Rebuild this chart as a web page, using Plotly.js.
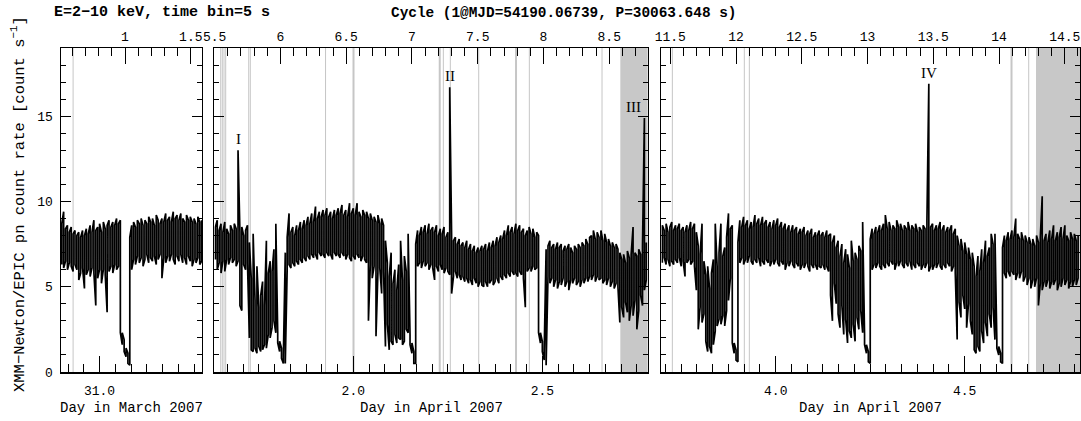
<!DOCTYPE html>
<html><head><meta charset="utf-8">
<script src="https://cdn.plot.ly/plotly-3.0.1.min.js"></script>
<style>html,body{margin:0;padding:0;background:#fff}#chart{width:1081px;height:421px}</style>
</head><body><div id="chart"></div>
<script>
// ---- ephemeris of the top (cycle) axis ----
const EPOCH_DAY = 31.06739;             // MJD 54190.06739 = day 31.06739 of March 2007
const PERIOD_DAYS = 30063.648 / 86400;  // P = 30063.648 s
const BIN_DAYS = 0.005;                 // sampling of the envelope arrays

// ---- panel 1: Day in March 2007 ----
const start1 = 30.900;
const lo1 = [6.3,6.1,6.5,6.0,6.4,6.2,5.9,6.3,6.0,5.4, 5.8,6.1,4.9,5.7,6.0,5.6,6.1,5.8,3.9,5.5,
  6.0,5.2,6.0,5.7,3.5,5.9,6.2,5.8,6.3,6.0, 6.2, 2.3,1.6,1.2,0.9,0.5,0.4,
  6.0,6.6,6.3,6.8,6.4,6.7,6.2,6.6,6.9,6.4, 6.7,6.5,6.8,6.3,6.6,6.9,5.5,6.7,6.4,6.8,
  6.5,6.9,6.6,6.3,6.8,6.5,6.9,6.4,6.7,6.3, 6.8,6.5,6.2,6.6,6.4,6.7,6.3,6.5];
const hi1 = [8.7,9.4,8.4,8.6,8.2,8.5,8.1,8.3,8.0,8.2, 7.9,8.3,8.0,8.4,8.1,8.6,8.2,8.9,8.3,8.5,
  8.7,8.2,8.8,8.4,8.6,8.9,8.5,8.8,8.6,9.0, 8.7, 8.9,2.3,1.9,1.4,1.1,7.9,
  8.6,8.8,8.5,8.9,8.7,9.0,8.6,8.9,8.7,9.1, 8.8,9.0,8.6,9.2,8.9,8.7,9.0,8.8,9.3,8.9,
  9.1,8.8,9.4,9.0,9.2,8.9,9.3,9.0,8.8,9.2, 8.9,9.1,8.8,9.0,8.7,9.1,8.8,8.9];

// ---- panel 2: Day in April 2007 ----
const start2 = 1.635;
const lo2 = [6.6,6.0,6.4,5.8,6.5,5.9,6.6,6.3,6.7,6.4, 6.6,6.2,6.5,3.9,3.6,6.3,6.0,6.4,2.0,1.3,
  1.2,1.4,1.1,1.5,1.2,1.3,1.6,1.4,2.2,2.0, 2.6,3.0,2.3,1.7,1.2,0.8,0.5,0.5,6.0,6.3,
  6.1,6.4,6.2,6.5,6.3,6.6,6.4,6.7,6.5,6.8, 6.6,6.9,6.7,6.9,6.6,7.0,6.8,6.9,6.7,7.0,
  6.8,6.9,6.6,7.0,6.8,6.9,6.7,7.0,6.8,6.6, 6.9,6.7,6.5,6.8,6.6,6.9,6.7,6.5,6.8,6.6,
  6.4,3.0,6.3,5.5,6.2,2.1,5.8,6.1,4.6,5.9, 1.5,2.8,1.3,1.8,1.6,2.2,1.7,2.0,1.9,1.6,
  1.8,2.5,2.3,1.6,1.1,0.5,0.5,6.2,6.4,6.1, 6.5,6.2,6.4,6.0,6.3,6.1,5.4,6.2,5.9,6.3,
  6.0,5.8,6.1,5.9,5.7,4.6,5.6,5.9,5.5,5.7, 5.4,5.6,5.3,5.5,5.2,5.4,5.1,5.5,5.2,5.0,
  5.3,5.1,5.0,5.3,5.0,5.2,5.4,5.1,5.3,5.5, 5.2,5.6,5.4,5.7,5.5,5.8,5.6,5.9,5.7,5.8,
  5.6,5.9,5.7,5.5,3.8,5.9,6.1,5.9,6.2,6.0, 6.1,2.3,1.7,1.2,0.7,0.4,5.6,5.2,5.5,5.0,
  5.4,4.9,5.3,5.1,5.5,5.0,5.3,4.8,5.4,5.2, 5.5,5.1,5.3,5.0,5.4,5.2,5.5,5.3,5.6,5.4,
  5.7,5.3,5.6,5.4,5.5,5.2,5.4,5.1,5.5,5.0, 5.3,4.9,5.2,5.0,2.9,3.8,3.2,4.1,3.5,3.0,
  3.9,3.3,4.2,2.5,3.6,4.5,3.9,4.8,5.4];
const hi2 = [8.5,8.9,8.3,8.7,8.2,8.8,8.4,8.1,8.6,8.3, 8.7,8.4,13.0,8.2,8.5,8.0,8.3,8.6,7.6,5.5,
  8.1,4.2,6.2,3.8,4.5,5.3,3.9,7.7,5.8,6.5, 5.9,7.2,8.7,2.3,1.8,1.4,1.0,7.0,7.9,9.3,
  8.2,8.5,8.0,8.6,8.3,8.8,8.4,8.9,8.6,9.1, 8.7,9.3,8.8,9.7,9.0,9.4,9.1,9.5,9.2,9.6,
  9.1,9.4,9.0,9.5,9.2,9.6,9.3,9.8,9.2,9.5, 9.1,9.9,9.3,9.6,9.2,9.9,9.4,9.1,9.5,9.2,
  9.4,9.0,9.3,8.9,9.1,8.8,9.2,8.7,9.0,8.6, 7.7,6.4,5.6,7.0,5.2,6.0,4.8,6.3,7.7,5.4,
  6.8,5.9,8.1,2.2,1.7,1.2,7.5,8.3,8.0,8.5, 8.2,8.6,8.1,8.7,8.3,8.5,8.2,8.6,8.0,8.4,
  8.1,8.5,7.9,8.2,16.7,8.0,7.7,7.9,7.5,7.8, 7.4,7.6,7.3,7.7,7.2,7.5,7.1,7.4,7.0,7.3,
  7.1,7.4,7.2,7.5,7.1,7.6,7.3,7.7,7.4,7.9, 7.6,8.0,7.8,8.3,8.0,8.6,8.2,8.5,8.1,8.7,
  8.3,8.6,8.2,8.4,8.0,8.3,8.5,8.1,8.4,7.9, 8.2,8.0,2.3,1.8,1.3,7.2,7.4,7.7,7.3,7.5,
  7.2,7.6,7.3,7.5,7.1,7.4,7.2,7.5,7.3,7.0, 7.4,7.2,7.5,7.3,7.6,7.4,7.8,7.5,7.9,8.0,
  8.3,7.8,8.2,7.9,8.3,7.7,8.1,7.6,7.8,7.4, 7.6,7.3,7.5,7.2,7.0,6.6,6.9,6.4,7.1,6.7,
  6.9,8.5,7.0,6.8,7.2,6.9,7.4,14.9,7.6];

// ---- panel 3: Day in April 2007 ----
const start3 = 3.700;
const lo3 = [6.4,6.7,6.3,6.6,6.2,6.5,6.3,6.6,6.4,6.7, 6.2,6.5,5.6,6.4,6.6,6.3,6.5,6.2,4.8,2.5,
  3.8,2.9,3.4,1.8,1.2,1.5,1.1,1.6,2.4,2.7, 3.1,2.8,3.3,2.7,3.6,4.2,5.5,1.7,1.1,0.7,
  0.6,6.4,6.7,6.3,6.6,6.4,6.8,6.5,6.3,6.6, 6.4,6.7,6.2,6.5,6.3,6.6,6.4,6.2,6.5,6.3,
  6.6,6.4,6.2,6.5,6.3,6.0,6.4,6.2,6.5,6.3, 6.1,6.4,6.2,6.0,6.3,6.1,6.4,6.2,5.9,6.3,
  6.1,6.3,6.0,6.2,6.1,6.3,6.0,6.2,5.9,4.5, 3.0,5.2,4.0,3.4,2.6,3.9,2.2,3.1,1.7,2.4,
  2.0,2.8,1.8,3.2,2.5,3.6,2.3,1.6,1.1,0.6, 0.5,6.0,6.3,6.1,6.4,6.2,6.0,6.3,6.1,6.4,
  6.2,6.5,6.3,6.0,6.4,6.2,6.5,6.3,6.1,6.4, 6.2,6.5,6.0,6.3,6.1,6.4,6.2,6.0,6.3,6.1,
  6.4,5.9,6.2,6.0,6.3,6.1,6.4,6.2,6.0,6.3, 6.1,6.4,6.2,5.9,6.2,5.8,1.9,4.1,3.2,4.5,
  3.7,2.6,4.0,3.0,2.2,1.3,1.1,1.5,1.2,2.4, 1.7,2.9,2.1,3.4,2.6,3.8,1.9,1.4,1.0,0.6,
  0.5,5.8,5.5,5.9,5.6,5.9,5.7,5.4,5.8,5.5, 5.9,5.3,5.6,5.1,5.5,4.9,5.4,5.0,5.5,3.9,
  5.2,4.8,5.3,5.0,5.4,4.9,5.3,5.1,5.4,4.8, 5.2,5.0,5.5,5.1,5.4,4.9,5.3,5.0,5.4,5.1,
  5.5];
const hi3 = [8.6,8.3,8.7,8.2,8.5,8.8,8.3,8.6,8.4,8.7, 8.3,8.5,8.2,8.6,8.3,8.8,8.4,8.7,8.2,7.4,
  6.9,8.7,6.5,5.7,6.2,4.9,5.8,6.6,8.7,6.2, 7.0,8.7,6.8,7.3,7.9,9.3,8.4,8.6,1.7,1.3,
  7.6,8.9,8.5,9.1,8.6,8.9,8.4,8.8,8.5,9.2, 8.7,9.0,8.6,9.1,8.7,8.9,8.5,8.8,8.4,8.9,
  8.6,9.0,8.5,8.8,8.4,8.7,8.3,8.6,8.2,8.6, 8.3,8.5,8.1,8.4,8.2,8.5,8.0,8.3,8.1,8.4,
  7.9,8.2,8.0,8.3,8.0,8.2,7.9,8.3,8.0,8.1, 7.6,8.0,7.3,7.7,6.8,7.5,6.4,7.2,6.9,6.1,
  7.7,6.5,7.0,6.6,7.4,7.1,8.8,2.2,1.6,1.2, 7.8,8.4,8.1,8.5,8.2,8.6,8.3,8.7,9.2,8.4,
  8.8,8.3,8.6,8.4,8.9,8.5,8.7,8.3,8.6,8.4, 8.8,8.3,8.6,8.4,8.7,8.2,8.5,8.3,8.6,8.4,
  8.9,16.9,8.5,8.7,8.3,8.6,8.4,8.8,8.3,8.6, 8.2,8.5,8.3,8.6,8.1,8.4,8.0,7.4,7.8,7.1,
  7.6,6.9,7.3,6.6,7.0,6.2,5.6,6.8,5.9,7.2, 6.4,7.7,6.8,7.3,8.1,7.5,8.1,1.9,1.5,1.1,
  7.3,8.0,7.7,8.2,7.8,8.3,7.9,9.0,8.1,7.8, 8.2,7.7,8.0,7.6,7.9,7.5,7.8,7.4,8.0,7.6,
  7.9,10.3,7.7,8.1,7.6,8.3,7.8,8.6,7.7,8.2, 7.9,8.5,7.8,8.6,8.0,7.7,8.2,7.8,8.1,7.7,
  8.0];

// ---- data gaps (grey lines) and shaded intervals ----
const gaps1 = [30.930];
const gaps2 = [1.6492,1.6534,1.6579,1.6624,1.7233,1.7275,1.9265,2.2381,2.2566,2.3317,2.4656,2.6579];
const gaps2Wide = [2.0005,2.2286,2.4304];
const gaps3 = [3.7265,3.9169,3.9302,4.6693];
const gaps3Wide = [4.6238];
const shade2Start = 2.7063;
const shade3Start = 4.6886;

// ---- flare labels (attached to the spikes of each panel series) ----
const flareLabels = [
  {panel: 2, name: 'I', nth: 0},
  {panel: 2, name: 'II', nth: 1},
  {panel: 2, name: 'III', nth: 2},
  {panel: 3, name: 'IV', nth: 0}
];

// =====================================================================
const FONT = 'Liberation Mono, DejaVu Sans Mono, monospace';
const GREY = '#c6c6c6';
const R1 = [30.898, 31.271], R2 = [1.6325, 2.7790], R3 = [3.697, 4.805];
const D1 = [0, 0.13837], D2 = [0.15054, 0.57586], D3 = [0.58901, 1];
const cyc = d => 1 + (d - EPOCH_DAY) / PERIOD_DAYS;

function meander(start, lo, hi) {
  const x = [], y = [];
  for (let i = 0; i < lo.length; i++) {
    const t = +(start + i * BIN_DAYS).toFixed(4);
    x.push(t, t);
    if (i % 2 === 0) y.push(lo[i], hi[i]); else y.push(hi[i], lo[i]);
  }
  return {x, y};
}

const panels = [
  {start: start1, lo: lo1, hi: hi1, xa: 'x', ya: 'y'},
  {start: start2, lo: lo2, hi: hi2, xa: 'x3', ya: 'y2'},
  {start: start3, lo: lo3, hi: hi3, xa: 'x5', ya: 'y3'}
];

const traces = [];
panels.forEach(p => {
  const m = meander(p.start, p.lo, p.hi);
  traces.push({type: 'scatter', mode: 'lines', x: m.x, y: m.y, xaxis: p.xa, yaxis: p.ya,
    line: {color: '#000', width: 1.7}, hoverinfo: 'skip', showlegend: false});
});
[['x2','y'],['x4','y2'],['x6','y3']].forEach(([xa, ya]) => {
  traces.push({type: 'scatter', mode: 'lines', x: [null], y: [null], xaxis: xa, yaxis: ya, hoverinfo: 'skip', showlegend: false});
});

function peaks(p) {
  const out = [];
  p.hi.forEach((v, i) => { if (v > 12) out.push({x: +(p.start + i * BIN_DAYS).toFixed(4), y: v}); });
  return out;
}
const annotations = [];
flareLabels.forEach(f => {
  const p = panels[f.panel - 1];
  const pk = peaks(p)[f.nth];
  const isEdge = f.name === 'III';
  annotations.push({x: pk.x, y: pk.y, xref: p.xa, yref: p.ya, text: f.name, showarrow: false,
    xanchor: isEdge ? 'right' : 'center', yanchor: 'bottom', xshift: isEdge ? -1 : 0, yshift: 1,
    font: {family: 'Liberation Serif, serif', size: 15, color: '#000'}});
});

const px2paperX = px => (px - 61) / 1019;
const px2paperY = py => (372 - py) / 324;
annotations.push(
  {xref: 'paper', yref: 'paper', x: px2paperX(52), y: px2paperY(13), xanchor: 'left', yanchor: 'middle', showarrow: false,
   text: '<b>E=2\u221210 keV, time bin=5 s</b>', font: {family: FONT, size: 15, color: '#000'}},
  {xref: 'paper', yref: 'paper', x: px2paperX(563), y: px2paperY(13), xanchor: 'center', yanchor: 'middle', showarrow: false,
   text: '<b>Cycle (1@MJD=54190.06739, P=30063.648 s)</b>', font: {family: FONT, size: 14.4, color: '#000'}},
  {xref: 'paper', yref: 'paper', x: (D1[0] + D1[1]) / 2, y: px2paperY(408), xanchor: 'center', yanchor: 'middle', showarrow: false,
   text: 'Day in March 2007', font: {family: FONT, size: 14, color: '#000'}},
  {xref: 'paper', yref: 'paper', x: (D2[0] + D2[1]) / 2, y: px2paperY(408), xanchor: 'center', yanchor: 'middle', showarrow: false,
   text: 'Day in April 2007', font: {family: FONT, size: 14, color: '#000'}},
  {xref: 'paper', yref: 'paper', x: (D3[0] + D3[1]) / 2, y: px2paperY(408), xanchor: 'center', yanchor: 'middle', showarrow: false,
   text: 'Day in April 2007', font: {family: FONT, size: 14, color: '#000'}},
  {xref: 'paper', yref: 'paper', x: px2paperX(18), y: px2paperY(204), xanchor: 'center', yanchor: 'middle', textangle: -90, showarrow: false,
   text: 'XMM\u2212Newton/EPIC pn count rate [count s<sup>\u22121</sup>]', font: {family: FONT, size: 15.5, color: '#000'}}
);

const shapes = [];
function vlines(arr, xa, w) {
  arr.forEach(d => shapes.push({type: 'line', xref: xa, yref: 'paper', x0: d, x1: d, y0: 0, y1: 1,
    line: {color: GREY, width: w}, layer: 'below'}));
}
vlines(gaps1, 'x', 1);
vlines(gaps2, 'x3', 1); vlines(gaps2Wide, 'x3', 2);
vlines(gaps3, 'x5', 1); vlines(gaps3Wide, 'x5', 2);
shapes.push({type: 'rect', xref: 'x3', yref: 'paper', x0: shade2Start, x1: R2[1], y0: 0, y1: 1, fillcolor: '#c8c8c8', line: {width: 0}, layer: 'below'});
shapes.push({type: 'rect', xref: 'x5', yref: 'paper', x0: shade3Start, x1: R3[1], y0: 0, y1: 1, fillcolor: '#c8c8c8', line: {width: 0}, layer: 'below'});

const base = {showline: true, linecolor: '#000', linewidth: 1.5, ticks: 'inside', tickcolor: '#000', tickwidth: 1,
  showgrid: false, zeroline: false, fixedrange: true, tickfont: {family: FONT, size: 13, color: '#000'}};
function bottomX(dom, rng, anchor) {
  return Object.assign({}, base, {domain: dom, range: rng, anchor: anchor, dtick: 0.5, tick0: 0, ticklen: 16,
    tickformat: '.1f', ticklabelstandoff: 6,
    minor: {dtick: 1 / 24, tick0: 0, ticklen: 8, ticks: 'inside', tickcolor: '#000', tickwidth: 1, showgrid: false}});
}
function topX(dom, rng, over, anchor, offset) {
  return Object.assign({}, base, {domain: dom, range: [cyc(offset + rng[0]), cyc(offset + rng[1])], overlaying: over,
    side: 'top', anchor: anchor, dtick: 0.5, tick0: 0, ticklen: 16, ticklabelstandoff: 0,
    minor: {dtick: 0.1, tick0: 0, ticklen: 8, ticks: 'inside', tickcolor: '#000', tickwidth: 1, showgrid: false}});
}
function yAx(anchor, labels) {
  return Object.assign({}, base, {domain: [0, 1], range: [0, 19], anchor: anchor, dtick: 5, tick0: 0, ticklen: 10,
    mirror: 'ticks', showticklabels: labels, ticklabelstandoff: 4,
    minor: {dtick: 1, tick0: 0, ticklen: 5, ticks: 'inside', tickcolor: '#000', tickwidth: 1, showgrid: false}});
}

const layout = {
  width: 1081, height: 421, margin: {l: 61, r: 1, t: 48, b: 49}, paper_bgcolor: '#fff', plot_bgcolor: 'rgba(0,0,0,0)',
  showlegend: false, font: {family: FONT, color: '#000'},
  xaxis: bottomX(D1, R1, 'y'),
  xaxis2: topX(D1, R1, 'x', 'y', 0),
  xaxis3: bottomX(D2, R2, 'y2'),
  xaxis4: topX(D2, R2, 'x3', 'y2', 31),
  xaxis5: bottomX(D3, R3, 'y3'),
  xaxis6: topX(D3, R3, 'x5', 'y3', 31),
  yaxis: yAx('x', true),
  yaxis2: yAx('x3', false),
  yaxis3: yAx('x5', false),
  shapes: shapes,
  annotations: annotations
};

Plotly.newPlot('chart', traces, layout, {staticPlot: true, displayModeBar: false});
</script></body></html>
